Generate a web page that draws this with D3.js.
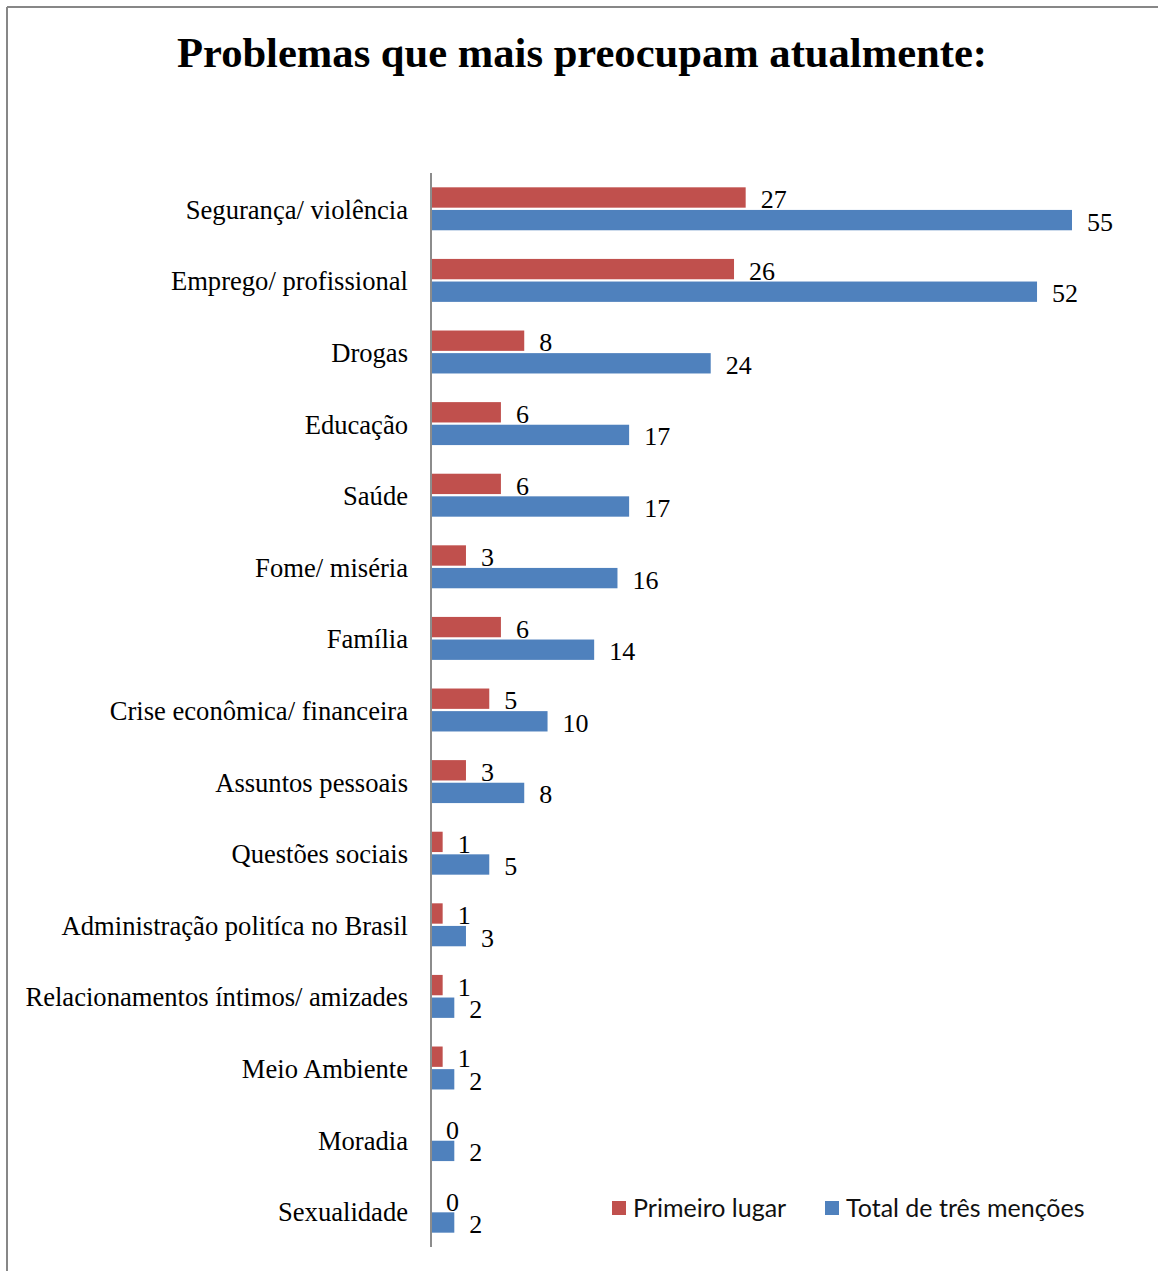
<!DOCTYPE html>
<html>
<head>
<meta charset="utf-8">
<script src="https://cdn.jsdelivr.net/npm/d3@7"></script>
<style>
  body { margin: 0; background: #fff; }
</style>
</head>
<body>
<svg id="chart"></svg>
<script>
var categories = ["Segurança/ violência", "Emprego/ profissional", "Drogas", "Educação", "Saúde",
    "Fome/ miséria", "Família", "Crise econômica/ financeira", "Assuntos pessoais", "Questões sociais",
    "Administração politíca no Brasil", "Relacionamentos íntimos/ amizades", "Meio Ambiente", "Moradia", "Sexualidade"];
var primeiroLugar = [27, 26, 8, 6, 6, 3, 6, 5, 3, 1, 1, 1, 1, 0, 0];
var totalTresMencoes = [55, 52, 24, 17, 17, 16, 14, 10, 8, 5, 3, 2, 2, 2, 2];
var seriesNames = ["Primeiro lugar", "Total de três menções"];
var colors = ["#C0504D", "#4F81BD"];

var W = 1158, H = 1271;
var svg = d3.select("#chart").attr("width", W).attr("height", H);

// frame (only left and top edges visible)
svg.append("line").attr("x1", 7).attr("y1", 7).attr("x2", W).attr("y2", 7)
    .attr("stroke", "#878787").attr("stroke-width", 2);
svg.append("line").attr("x1", 7).attr("y1", 7).attr("x2", 7).attr("y2", H)
    .attr("stroke", "#878787").attr("stroke-width", 2);

// title
svg.append("text")
    .attr("x", 582).attr("y", 67)
    .attr("text-anchor", "middle")
    .style("font-family", "'Liberation Serif', 'Times New Roman', serif")
    .style("font-weight", "bold")
    .style("font-size", "42.6px")
    .text("Problemas que mais preocupam atualmente:");

var m = { left: 431, top: 173, right: 86, bottom: 24 };
var plotH = H - m.top - m.bottom;

var y = d3.scaleBand().domain(categories).range([m.top, m.top + plotH]).paddingInner(0.4).paddingOuter(0.2);
var x = d3.scaleLinear().domain([0, 55]).range([m.left, 1072]);
var sub = d3.scaleBand().domain(seriesNames).range([0, y.bandwidth()]).paddingInner(0.1);

var rows = categories.map(function (c, i) {
    return { cat: c, vals: [primeiroLugar[i], totalTresMencoes[i]] };
});

var groups = svg.append("g").selectAll("g.grp")
    .data(rows).enter().append("g")
    .attr("class", "grp")
    .attr("transform", function (d) { return "translate(0," + y(d.cat) + ")"; });

groups.selectAll("rect")
    .data(function (d) { return d.vals.map(function (v, j) { return { v: v, s: seriesNames[j], j: j }; }); })
    .enter().append("rect")
    .attr("x", x(0))
    .attr("y", function (d) { return sub(d.s); })
    .attr("width", function (d) { return x(d.v) - x(0); })
    .attr("height", sub.bandwidth())
    .attr("fill", function (d) { return colors[d.j]; });

groups.selectAll("text.val")
    .data(function (d) { return d.vals.map(function (v, j) { return { v: v, s: seriesNames[j] }; }); })
    .enter().append("text")
    .attr("class", "val")
    .attr("x", function (d) { return x(d.v) + 15; })
    .attr("y", function (d) { return sub(d.s) + sub.bandwidth() / 2 + 1.5; })
    .attr("dy", "0.35em")
    .style("font-family", "'Liberation Serif', 'Times New Roman', serif")
    .style("font-size", "26px")
    .text(function (d) { return d.v; });

// category axis
var yAxis = d3.axisLeft(y).tickSize(0).tickPadding(23);
var gY = svg.append("g")
    .attr("transform", "translate(" + m.left + ",1.5)")
    .call(yAxis);
gY.select(".domain").attr("stroke", "#8c8c8c").attr("stroke-width", 2)
    .attr("d", "M0," + (m.top - 1.5) + "V" + (m.top + plotH - 1.5));
gY.selectAll("text")
    .style("font-family", "'Liberation Serif', 'Times New Roman', serif")
    .style("font-size", "26.6px")
    .attr("fill", "#000");

// legend
var legend = svg.append("g");
var legX = [612, 825];
seriesNames.forEach(function (s, i) {
    legend.append("rect").attr("x", legX[i]).attr("y", 1201).attr("width", 14).attr("height", 14)
        .attr("fill", colors[i]);
    legend.append("text").attr("x", legX[i] + 21).attr("y", 1208).attr("dy", "0.35em")
        .style("font-family", "Lato, 'Open Sans', sans-serif")
        .style("font-size", "25px")
        .attr("fill", "#111")
        .text(s);
});
</script>
</body>
</html>
